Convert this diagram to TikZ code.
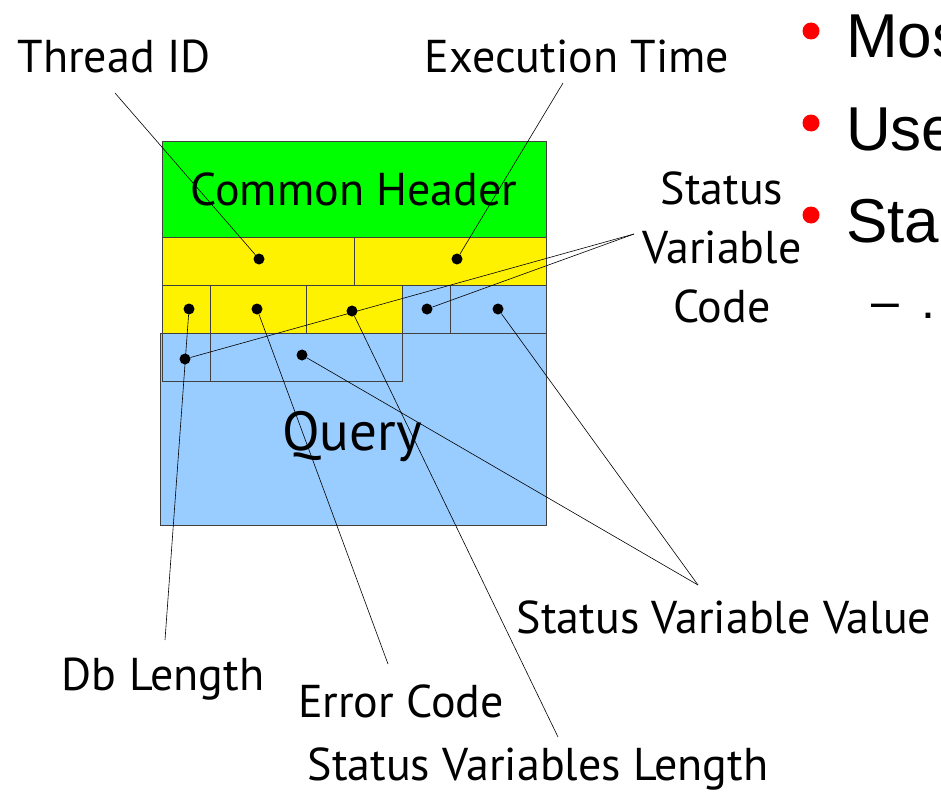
\documentclass[tikz,border=0pt]{standalone}
\usepackage{fontspec}
\setmainfont{PT Sans}
\newfontfamily\slidefont{Liberation Sans}
\usetikzlibrary{calc}
\definecolor{qblue}{RGB}{153,204,255}

\begin{document}
\begin{tikzpicture}[x=1pt,y=-1pt,
  cell/.style={draw=black!75, line width=0.8pt},
  pin/.style={circle, fill=black, inner sep=0pt, minimum size=11pt},
  lbl/.style={font=\fontsize{46}{59}\selectfont, inner sep=0pt},
  callout/.style={black, line width=0.6pt},
  bul/.style={circle, fill=red, inner sep=0pt, minimum size=17pt}]
\useasboundingbox (0,0) rectangle (941,792);
\clip (0,0) rectangle (941,792);

% record layout
\draw[cell, fill=green] (162,141) rectangle (546,237);
\draw[cell, fill=yellow] (162,237) rectangle (546,285);
\draw[cell] (354,237) -- (354,285);
\draw[cell, fill=qblue] (160,333) rectangle (546,525);
\foreach \a/\b in {162/210, 210/306, 306/402}
  \draw[cell, fill=yellow] (\a,285) rectangle (\b,333);
\foreach \a/\b in {402/450, 450/546}
  \draw[cell, fill=qblue] (\a,285) rectangle (\b,333);
\draw[cell, fill=qblue] (162,333) rectangle (402,381);
\draw[cell] (210,333) -- (210,381);

\node[lbl, anchor=base] (hdr) at (354,205) {Common Header};
\node[lbl, anchor=base, font=\fontsize{55}{60}\selectfont] (qry) at (352,450) {Query};

% field markers
\node[pin] (ptid) at (259,259) {};
\node[pin] (pext) at (457,259) {};
\node[pin] (pdbl) at (189,309) {};
\node[pin] (perc) at (257,309) {};
\node[pin] (psvl) at (352,311) {};
\node[pin] (psvc) at (427,309) {};
\node[pin] (psvv) at (498,309) {};
\node[pin] (pcod) at (185,359) {};
\node[pin] (pval) at (302,355) {};

% labels
\node[lbl, anchor=base] (tid) at (114,72) {Thread ID};
\node[lbl, anchor=base] (ext) at (577,72) {Execution Time};
\node[lbl, align=center] (svc) at (722,247) {Status\\Variable\\Code};
\node[lbl, anchor=base] (svv) at (724,633) {Status Variable Value};
\node[lbl, anchor=base] (dbl) at (163,690) {Db Length};
\node[lbl, anchor=base] (erc) at (401,717) {Error Code};
\node[lbl, anchor=base] (svl) at (538,780) {Status Variables Length};

% callout ends
\coordinate (tidend) at (115,93);
\coordinate (extend) at (563,83);
\coordinate (svcend) at (634,234);
\coordinate (svvend) at (698,585);
\coordinate (dblend) at (165,640);
\coordinate (ercend) at (388,664);
\coordinate (svlend) at (558,737);

\draw[callout] (tidend) -- (ptid);
\draw[callout] (extend) -- (pext);
\draw[callout] (svcend) -- (pcod);
\draw[callout] (svcend) -- (psvc);
\draw[callout] (svvend) -- (pval);
\draw[callout] (svvend) -- (psvv);
\draw[callout] (dblend) -- (pdbl);
\draw[callout] (ercend) -- (perc);
\draw[callout] (svlend) -- (psvl);

% slide text at the right
\foreach \y/\t in {58/Mos, 150/Use, 242/Sta} {
  \node[bul] (b\t) at (811,\y-27) {};
  \node[anchor=base west, inner sep=0pt, font=\slidefont\fontsize{62}{66}\selectfont] (t\t) at (846,\y) {\t};
}
\node[anchor=base west, inner sep=0pt, font=\slidefont\fontsize{50}{54}\selectfont] (sub) at (871,318) {–};
\node[anchor=base west, inner sep=0pt, font=\slidefont\fontsize{50}{54}\selectfont] (subdot) at (921,318) {.};
\end{tikzpicture}
\end{document}
